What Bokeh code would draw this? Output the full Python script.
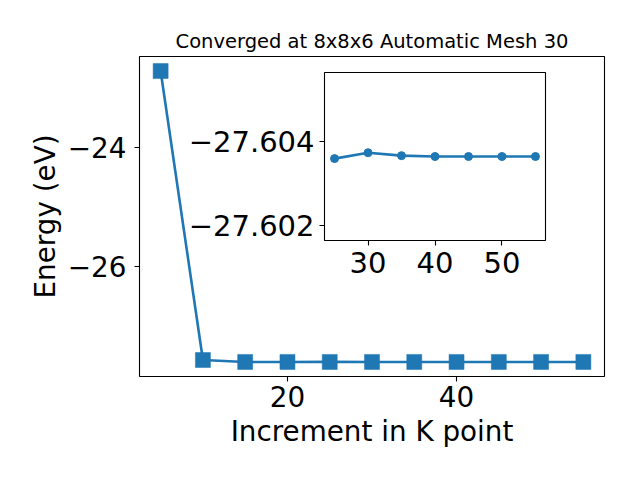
from bokeh.plotting import figure
from bokeh.layouts import column
from bokeh.models import Range1d, FixedTicker, CustomJSTickFormatter
from bokeh.embed import file_html
from bokeh.resources import INLINE

# ---- data ----
kpoints = [5, 10, 15, 20, 25, 30, 35, 40, 45, 50, 55]
energy = [-22.726, -27.572, -27.6036, -27.6036, -27.60359, -27.60373,
          -27.60366, -27.60364, -27.60364, -27.60364, -27.60364]
inset_k = [25, 30, 35, 40, 45, 50, 55]
inset_energy = [-27.60359, -27.60373, -27.60366, -27.60364, -27.60364,
                -27.60364, -27.60364]
main_xticks = [20, 40]
main_yticks = [-26, -24]
inset_xticks = [30, 40, 50]
inset_yticks = [-27.604, -27.602]

title_text = "Converged at 8x8x6 Automatic Mesh 30"
xlabel = "Increment in K point"
ylabel = "Energy (eV)"

BLUE = "#1f77b4"
FONT = "DejaVu Sans"
TICK_FS = "27.8px"
INSET_TICK_FS = "29px"
LABEL_FS = "27.8px"


def style_axes(fig, fs):
    for ax in (fig.xaxis[0], fig.yaxis[0]):
        ax.major_label_text_font = FONT
        ax.major_label_text_font_size = fs
        ax.major_label_text_color = "black"
        ax.axis_label_text_font = FONT
        ax.axis_label_text_font_size = LABEL_FS
        ax.axis_label_text_font_style = "normal"
        ax.axis_label_text_color = "black"
        ax.major_tick_in = 0
        ax.major_tick_out = 5
        ax.major_tick_line_width = 1.1
        ax.major_tick_line_color = "black"
        ax.minor_tick_line_color = None
        ax.axis_line_color = None
        ax.major_label_standoff = 4
    fig.grid.visible = False
    fig.outline_line_color = "black"
    fig.outline_line_width = 1.1
    fig.outline_line_alpha = 1.0


# ---- main figure ----
p = figure(output_backend="svg", toolbar_location=None,
           width=634, height=472,
           min_border_left=136, min_border_right=30,
           min_border_top=56, min_border_bottom=96,
           x_range=Range1d(2.5, 57.5), y_range=Range1d(-27.848, -22.482),
           title=title_text)
p.title.text_font = FONT
p.title.text_font_size = "19.5px"
p.title.text_font_style = "normal"
p.title.text_color = "black"
p.title.align = "center"
p.title.standoff = 7
style_axes(p, TICK_FS)
p.xaxis.axis_label = xlabel
p.yaxis.axis_label = ylabel
p.xaxis.ticker = FixedTicker(ticks=main_xticks)
p.yaxis.ticker = FixedTicker(ticks=main_yticks)
p.yaxis.formatter = CustomJSTickFormatter(
    code="return (tick < 0 ? '\u2212' : '') + Math.abs(tick).toFixed(0);")
p.xaxis.axis_label_standoff = 5
p.yaxis.major_label_standoff = 8
p.yaxis.axis_label_standoff = 3

p.line(kpoints, energy, line_color=BLUE, line_width=2.6)
p.scatter(kpoints, energy, marker="square", size=15, fill_color=BLUE,
          line_color=BLUE, line_width=0.5)

# ---- inset figure ----
ins = figure(output_backend="svg", toolbar_location=None,
             width=136 + 224 + 30, height=5 + 168 + 60,
             min_border_left=136, min_border_right=30,
             min_border_top=5, min_border_bottom=60,
             x_range=Range1d(23.5, 56.5),
             y_range=Range1d(-27.60164, -27.60564))
style_axes(ins, INSET_TICK_FS)
ins.xaxis.ticker = FixedTicker(ticks=inset_xticks)
ins.yaxis.ticker = FixedTicker(ticks=inset_yticks)
ins.yaxis.formatter = CustomJSTickFormatter(
    code="return (tick < 0 ? '\u2212' : '') + Math.abs(tick).toFixed(3);")
ins.yaxis.major_label_standoff = 5
ins.xaxis.major_label_standoff = 6
ins.border_fill_alpha = 0
ins.background_fill_color = "white"
ins.line(inset_k, inset_energy, line_color=BLUE, line_width=2.6)
ins.scatter(inset_k, inset_energy, marker="circle", size=8, fill_color=BLUE,
            line_color=BLUE)
ins.styles = {"position": "absolute", "left": "185px", "top": "67px"}

layout = column(p, ins, styles={"position": "relative"})

open("out.html", "w").write(file_html(layout, INLINE))
